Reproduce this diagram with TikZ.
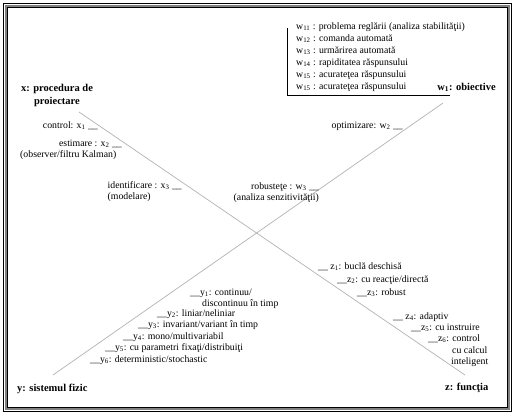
\documentclass[tikz,border=0pt]{standalone}
\usepackage{fontspec}
\setmainfont{Liberation Serif}
\newcommand{\sbs}[1]{\textsubscript{#1}}
\begin{document}
\begin{tikzpicture}[x=1pt,y=-1pt,
  txt/.style={inner sep=0pt,font=\fontsize{9.8}{11}\selectfont},
  lab/.style={inner sep=0pt,font=\fontsize{10.5}{13}\selectfont\bfseries},
  diag/.style={draw=black!30,line width=0.7pt},
  bracket/.style={draw=black,line width=0.8pt}]
\useasboundingbox (0,0) rectangle (513,415);
% frame
\draw[black,line width=1pt] (3,3) rectangle (511,411);
\draw[black!50,line width=2pt] (5.5,5.5) rectangle (509,409);
\draw[black,line width=1pt] (7.5,7.5) rectangle (507,407);
% diagonals
\coordinate (x0) at (79,112);
\coordinate (z0) at (465,375);
\coordinate (y0) at (53,375);
\coordinate (w0) at (443,103);
\draw[diag] (x0) -- (z0);
\draw[diag] (y0) -- (w0);
% w box
\coordinate (b1) at (287,28);
\coordinate (b2) at (287,95);
\coordinate (b3) at (450,95);
\draw[bracket] (b1) -- (b2) -- (b3);
\node[txt,anchor=base west] (w11) at (296,29) {w\sbs{11} : problema reglării (analiza stabilităţii)};
\node[txt,anchor=base west] (w12) at (296,41) {w\sbs{12} : comanda automată};
\node[txt,anchor=base west] (w13) at (296,53) {w\sbs{13} : urmărirea automată};
\node[txt,anchor=base west] (w14) at (296,65) {w\sbs{14} : rapiditatea răspunsului};
\node[txt,anchor=base west] (w15) at (296,77) {w\sbs{15} : acurateţea răspunsului};
\node[txt,anchor=base west] (w16) at (296,89) {w\sbs{15} : acurateţea răspunsului};
\node[lab,anchor=base east] (wlab) at (496,90) {w\sbs{1}: obiective};
% x side
\node[lab,align=center] (xlab) at (57,95) {x: procedura de\\proiectare};
\node[txt,anchor=base east] (ctl) at (98,128) {control: x\sbs{1} \_\_};
\node[txt,anchor=base east] (est) at (122,146) {estimare : x\sbs{2} \_\_};
\node[txt,anchor=base west] (obs) at (20,157) {(observer/filtru Kalman)};
\node[txt,anchor=base east] (idf) at (182,188) {identificare : x\sbs{3} \_\_};
\node[txt,anchor=base west] (mod) at ([yshift=-11pt]idf.base west) {(modelare)};
% w side
\node[txt,anchor=base east] (opt) at (403,128) {optimizare: w\sbs{2} \_\_};
\node[txt,anchor=base east] (rob) at (319,189) {robusteţe : w\sbs{3} \_\_};
\node[txt,anchor=base east] (ana) at ([yshift=-11pt]rob.base east) {(analiza senzitivităţii)};
% z side
\node[txt,anchor=base west] (z1) at (318,269) {\_\_ z\sbs{1}: buclă deschisă};
\node[txt,anchor=base west] (z2) at (337,282) {\_\_z\sbs{2}: cu reacţie/directă};
\node[txt,anchor=base west] (z3) at (357,295) {\_\_z\sbs{3}: robust};
\node[txt,anchor=base west] (z4) at (393,319) {\_\_ z\sbs{4}: adaptiv};
\node[txt,anchor=base west] (z5) at (411,330) {\_\_z\sbs{5}: cu instruire};
\node[txt,anchor=base west] (z6) at (428,341) {\_\_z\sbs{6}: control};
\node[txt,anchor=base west] (z6b) at (452,353) {cu calcul};
\node[txt,anchor=base west] (z6c) at (451,364) {inteligent};
\node[lab,anchor=base west] (zlab) at (445,390) {z: funcţia};
% y side
\node[txt,anchor=base west] (y1) at (190,295) {\_\_y\sbs{1}: continuu/};
\node[txt,anchor=base west] (y1b) at (202,306) {discontinuu în timp};
\node[txt,anchor=base west] (y2) at (157,316) {\_\_y\sbs{2}: liniar/neliniar};
\node[txt,anchor=base west] (y3) at (138,327) {\_\_y\sbs{3}: invariant/variant în timp};
\node[txt,anchor=base west] (y4) at (123,339) {\_\_y\sbs{4}: mono/multivariabil};
\node[txt,anchor=base west] (y5) at (105,350) {\_\_y\sbs{5}: cu parametri fixaţi/distribuiţi};
\node[txt,anchor=base west] (y6) at (90,362) {\_\_y\sbs{6}: deterministic/stochastic};
\node[lab,anchor=base west] (ylab) at (17,391) {y: sistemul fizic};
\end{tikzpicture}
\end{document}
